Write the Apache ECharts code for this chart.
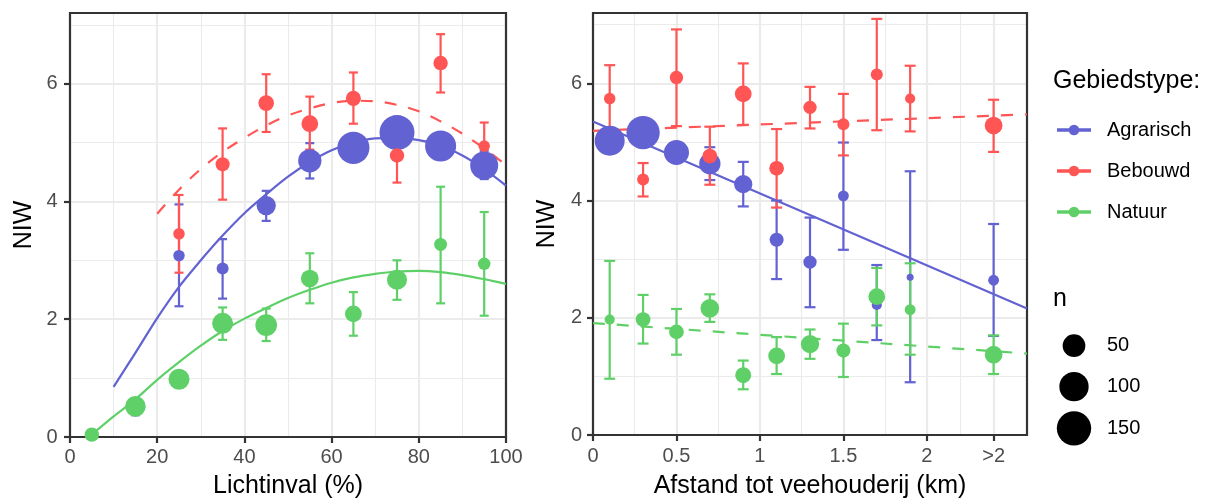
<!DOCTYPE html>
<html><head><meta charset="utf-8">
<script src="https://cdn.jsdelivr.net/npm/echarts@6/dist/echarts.min.js"></script>
<style>html,body{margin:0;padding:0;background:#fff}#c{width:1216px;height:504px}</style>
</head><body><div id="c"></div>
<script>
// ---------- data ----------
const groups = ['Agrarisch', 'Bebouwd', 'Natuur'];
const sizeLegendValues = [50, 100, 150];

const lightTicks = [0, 20, 40, 60, 80, 100];
const lightMinorTicks = [10, 30, 50, 70, 90];
const distTicks = [0, 0.5, 1, 1.5, 2, 2.4];
const distTickLabels = ['0', '0.5', '1', '1.5', '2', '>2'];
const distMinorTicks = [0.25, 0.75, 1.25, 1.75, 2.2];
const niwTicks = [0, 2, 4, 6];
const niwMinorTicks = [1, 3, 5, 7];

// Left panel: Lichtinval (%)
const lightX = [5, 15, 25, 35, 45, 55, 65, 75, 85, 95];
const agrLightMean = [null, 0.45, 3.08, 2.86, 3.93, 4.69, 4.91, 5.17, 4.94, 4.61];
const agrLightLow  = [null, 0.37, 2.22, 2.35, 3.67, 4.39, 4.78, 5.05, 4.82, 4.38];
const agrLightHigh = [null, 0.53, 3.95, 3.36, 4.18, 4.99, 5.05, 5.30, 5.07, 4.86];
const agrLightN    = [null, 6, 5, 6, 31, 54, 126, 157, 116, 89];

const bebLightMean = [null, null, 3.45, 4.63, 5.67, 5.32, 5.75, 4.78, 6.35, 4.94];
const bebLightLow  = [null, null, 2.79, 4.03, 5.18, 4.88, 5.32, 4.32, 5.85, 4.53];
const bebLightHigh = [null, null, 4.11, 5.24, 6.16, 5.78, 6.19, 5.23, 6.84, 5.34];
const bebLightN    = [null, null, 5, 11, 16, 20, 14, 12, 12, 5];

const natLightMean = [0.04, 0.52, 0.98, 1.93, 1.90, 2.69, 2.09, 2.67, 3.27, 2.94];
const natLightLow  = [0.00, 0.45, 0.90, 1.65, 1.63, 2.27, 1.72, 2.33, 2.27, 2.06];
const natLightHigh = [0.08, 0.59, 1.06, 2.20, 2.18, 3.12, 2.46, 3.00, 4.25, 3.82];
const natLightN    = [12, 38, 40, 40, 44, 24, 20, 35, 8, 7];

const agrLightFitX = [10, 15, 20, 25, 30, 35, 40, 45, 50, 55, 60, 65, 70, 75, 80, 85, 90, 95, 100];
const agrLightFitY = [0.85, 1.43, 2.02, 2.55, 3.0, 3.42, 3.8, 4.12, 4.42, 4.67, 4.87, 5.0, 5.07, 5.08, 5.04, 4.95, 4.78, 4.55, 4.27];
const bebLightFitX = [20, 25, 30, 35, 40, 45, 50, 55, 60, 65, 70, 75, 80, 85, 90, 95, 100];
const bebLightFitY = [3.79, 4.2, 4.55, 4.84, 5.08, 5.29, 5.46, 5.58, 5.67, 5.71, 5.7, 5.64, 5.53, 5.36, 5.15, 4.9, 4.62];
const natLightFitX = [5, 10, 15, 20, 25, 30, 35, 40, 45, 50, 55, 60, 65, 70, 75, 80, 85, 90, 95, 100];
const natLightFitY = [0.04, 0.35, 0.64, 0.97, 1.27, 1.55, 1.8, 2.01, 2.19, 2.36, 2.5, 2.62, 2.71, 2.77, 2.81, 2.82, 2.8, 2.75, 2.68, 2.6];

// Right panel: Afstand tot veehouderij (km)
const distX = [0.1, 0.3, 0.5, 0.7, 0.9, 1.1, 1.3, 1.5, 1.7, 1.9, 2.4];
const agrDistMean = [5.02, 5.16, 4.82, 4.63, 4.28, 3.33, 2.95, 4.08, 2.22, 2.69, 2.64];
const agrDistLow  = [4.90, 5.05, 4.70, 4.35, 3.90, 2.66, 2.18, 3.16, 1.62, 0.90, 1.69];
const agrDistHigh = [5.14, 5.27, 4.94, 4.91, 4.66, 4.00, 3.71, 4.99, 2.90, 4.50, 3.60];
const agrDistN    = [106, 139, 66, 42, 26, 11, 9, 4, 3, 1, 4];

const bebDistMean = [5.74, 4.36, 6.10, 4.76, 5.82, 4.55, 5.59, 5.30, 6.15, 5.74, 5.28];
const bebDistLow  = [5.18, 4.07, 5.27, 4.27, 5.29, 3.88, 5.23, 4.77, 5.20, 5.18, 4.83];
const bebDistHigh = [6.31, 4.64, 6.92, 5.26, 6.34, 5.22, 5.94, 5.82, 7.10, 6.30, 5.72];
const bebDistN    = [5, 6, 9, 13, 20, 13, 9, 6, 6, 3, 24];

const natDistMean = [1.97, 1.97, 1.76, 2.16, 1.02, 1.35, 1.55, 1.44, 2.36, 2.14, 1.37];
const natDistLow  = [0.96, 1.56, 1.37, 1.93, 0.78, 1.04, 1.30, 0.99, 1.87, 1.37, 1.04];
const natDistHigh = [2.97, 2.39, 2.15, 2.40, 1.27, 1.67, 1.80, 1.90, 2.85, 2.93, 1.70];
const natDistN    = [3, 13, 13, 28, 17, 20, 26, 11, 20, 4, 24];

const distFitX    = [0, 2.6];
const agrDistFitY = [5.35, 2.16];
const bebDistFitY = [5.19, 5.47];
const natDistFitY = [1.91, 1.39];

// ---------- styling / building ----------
const COLORS = ['#6262D2', '#FF5555', '#5FD068'];
const FONT = '"Liberation Sans", Arial, sans-serif';
function sizeOf(n) { return 7 + 2.24 * Math.sqrt(Math.max(n - 1, 0)); }

function pts(xs, mean, n) {
  const out = [];
  xs.forEach((x, i) => { if (mean[i] != null) out.push([x, mean[i], n[i]]); });
  return out;
}
function errs(xs, lo, hi) {
  const out = [];
  xs.forEach((x, i) => { if (lo[i] != null) out.push([x, lo[i], hi[i]]); });
  return out;
}
function errSeries(gi, panel, data, capHalf) {
  const color = COLORS[gi];
  return {
    type: 'custom', name: groups[gi], xAxisIndex: panel, yAxisIndex: panel, data: data, z: 10,
    encode: { x: 0, y: [1, 2] }, silent: true, clip: false,
    renderItem: function (params, api) {
      const x = api.value(0);
      const a = api.coord([x, api.value(1)]);
      const b = api.coord([x, api.value(2)]);
      const st = { stroke: color, lineWidth: 2.2 };
      return { type: 'group', children: [
        { type: 'line', shape: { x1: a[0], y1: a[1], x2: b[0], y2: b[1] }, style: st },
        { type: 'line', shape: { x1: a[0] - capHalf, y1: a[1], x2: a[0] + capHalf, y2: a[1] }, style: st },
        { type: 'line', shape: { x1: b[0] - capHalf, y1: b[1], x2: b[0] + capHalf, y2: b[1] }, style: st }
      ]};
    }
  };
}
function ptSeries(gi, panel, data) {
  return {
    type: 'scatter', name: groups[gi], xAxisIndex: panel, yAxisIndex: panel, data: data, z: 10,
    symbol: 'circle', symbolSize: v => sizeOf(v[2]), silent: true,
    itemStyle: { color: COLORS[gi], opacity: 1 }
  };
}
function fitSeries(gi, panel, xs, ys, dashed) {
  return {
    type: 'line', name: groups[gi], xAxisIndex: panel, yAxisIndex: panel, z: 10,
    data: xs.map((x, i) => [x, ys[i]]), smooth: 0.35, showSymbol: false, silent: true,
    lineStyle: { color: COLORS[gi], width: 2.2, type: dashed ? [12, 12] : 'solid' }
  };
}

const series = [
  // left panel
  errSeries(0, 0, errs(lightX, agrLightLow, agrLightHigh), 4.5),
  ptSeries(0, 0, pts(lightX, agrLightMean, agrLightN)),
  errSeries(1, 0, errs(lightX, bebLightLow, bebLightHigh), 4.5),
  ptSeries(1, 0, pts(lightX, bebLightMean, bebLightN)),
  errSeries(2, 0, errs(lightX, natLightLow, natLightHigh), 4.5),
  ptSeries(2, 0, pts(lightX, natLightMean, natLightN)),
  fitSeries(0, 0, agrLightFitX, agrLightFitY, false),
  fitSeries(1, 0, bebLightFitX, bebLightFitY, true),
  fitSeries(2, 0, natLightFitX, natLightFitY, false),
  // right panel
  errSeries(0, 1, errs(distX, agrDistLow, agrDistHigh), 5.5),
  ptSeries(0, 1, pts(distX, agrDistMean, agrDistN)),
  errSeries(1, 1, errs(distX, bebDistLow, bebDistHigh), 5.5),
  ptSeries(1, 1, pts(distX, bebDistMean, bebDistN)),
  errSeries(2, 1, errs(distX, natDistLow, natDistHigh), 5.5),
  ptSeries(2, 1, pts(distX, natDistMean, natDistN)),
  fitSeries(0, 1, distFitX, agrDistFitY, false),
  fitSeries(1, 1, distFitX, bebDistFitY, true),
  fitSeries(2, 1, distFitX, natDistFitY, true)
];

const labelStyle = { color: '#4D4D4D', fontSize: 20, fontFamily: FONT };
const nameStyle = { color: '#000', fontSize: 25, fontFamily: FONT };
const tickStyle = { show: true, length: 6, lineStyle: { color: '#333', width: 2.2 } };
const majorGrid = { show: true, lineStyle: { color: '#EBEBEB', width: 2.2 } };
const minorGrid = { show: true, lineStyle: { color: '#EBEBEB', width: 1.1 } };

function majorX(grid, min, max, ticks, name, gap, margin, fmt) {
  return {
    type: 'value', gridIndex: grid, min: min, max: max, position: 'bottom', z: 1,
    name: name, nameLocation: 'middle', nameGap: gap, nameTextStyle: nameStyle,
    axisLine: { show: false },
    axisTick: Object.assign({ customValues: ticks }, tickStyle),
    axisLabel: Object.assign({ customValues: ticks, margin: margin, formatter: fmt }, labelStyle),
    splitLine: Object.assign({}, majorGrid)
  };
}
function minorAxis(grid, min, max, ticks, pos) {
  return {
    type: 'value', gridIndex: grid, min: min, max: max, position: pos, z: 0,
    axisLine: { show: false },
    axisTick: { show: false, customValues: ticks },
    axisLabel: { show: false, customValues: ticks },
    splitLine: Object.assign({}, minorGrid)
  };
}
function majorY(grid, gap, margin) {
  return {
    type: 'value', gridIndex: grid, min: 0, max: 7.2, position: 'left', z: 1,
    name: 'NIW', nameLocation: 'middle', nameGap: gap, nameTextStyle: nameStyle,
    axisLine: { show: false },
    axisTick: Object.assign({ customValues: niwTicks }, tickStyle),
    axisLabel: Object.assign({ customValues: niwTicks, margin: margin, formatter: v => String(v) }, labelStyle),
    splitLine: Object.assign({}, majorGrid)
  };
}

const distFmt = v => {
  const i = distTicks.findIndex(t => Math.abs(t - v) < 1e-6);
  return i >= 0 ? distTickLabels[i] : '';
};

// legend graphics
const graphic = [];
graphic.push({ type: 'text', x: 1053, y: 81, silent: true,
  style: { text: 'Gebiedstype:', font: '25px ' + FONT, fill: '#000', align: 'left', verticalAlign: 'middle' } });
const rowY = [130, 171, 212];
groups.forEach((g, i) => {
  graphic.push({ type: 'line', silent: true, shape: { x1: 1057, y1: rowY[i], x2: 1091, y2: rowY[i] },
    style: { stroke: COLORS[i], lineWidth: 3.5 } });
  graphic.push({ type: 'circle', silent: true, shape: { cx: 1074, cy: rowY[i], r: 5.3 },
    style: { fill: COLORS[i] } });
  graphic.push({ type: 'text', x: 1107, y: rowY[i], silent: true,
    style: { text: g, font: '20px ' + FONT, fill: '#000', align: 'left', verticalAlign: 'middle' } });
});
graphic.push({ type: 'text', x: 1053, y: 299, silent: true,
  style: { text: 'n', font: '25px ' + FONT, fill: '#000', align: 'left', verticalAlign: 'middle' } });
const sizeRowY = [345.7, 386.7, 428.3];
sizeLegendValues.forEach((n, i) => {
  graphic.push({ type: 'circle', silent: true, shape: { cx: 1074, cy: sizeRowY[i], r: sizeOf(n) / 2 },
    style: { fill: '#000' } });
  graphic.push({ type: 'text', x: 1107, y: sizeRowY[i], silent: true,
    style: { text: String(n), font: '20px ' + FONT, fill: '#000', align: 'left', verticalAlign: 'middle' } });
});

const chart = echarts.init(document.getElementById('c'), null, { renderer: 'canvas' });
chart.setOption({
  animation: false,
  backgroundColor: '#fff',
  textStyle: { fontFamily: FONT },
  grid: [
    { left: 70, top: 13, width: 436, height: 431.5, show: true, z: 5, backgroundColor: 'transparent', borderColor: '#333', borderWidth: 2.2 },
    { left: 593, top: 13, width: 434, height: 428, show: true, z: 5, backgroundColor: 'transparent', borderColor: '#333', borderWidth: 2.2 }
  ],
  xAxis: [
    majorX(0, 0, 100, lightTicks, 'Lichtinval (%)', 37, 10, v => String(v)),
    majorX(1, 0, 2.6, distTicks, 'Afstand tot veehouderij (km)', 39, 11.5, distFmt),
    minorAxis(0, 0, 100, lightMinorTicks, 'top'),
    minorAxis(1, 0, 2.6, distMinorTicks, 'top')
  ],
  yAxis: [
    majorY(0, 33, 12.5),
    majorY(1, 33, 11),
    minorAxis(0, 0, 7.2, niwMinorTicks, 'right'),
    minorAxis(1, 0, 7.2, niwMinorTicks, 'right')
  ],
  graphic: graphic,
  series: series
});
</script>
</body></html>
